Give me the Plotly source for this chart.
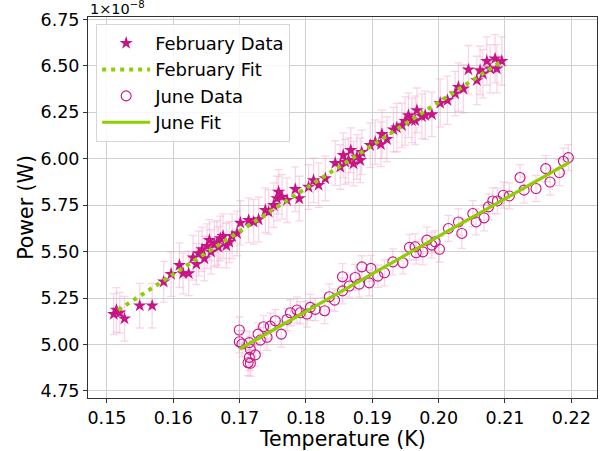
import plotly.graph_objects as go

# ---- February data (Power in units of 1e-8 W) ----
feb_T = [0.15102, 0.15143, 0.15193, 0.15264, 0.15494, 0.15681, 0.15855, 0.15967, 0.16092, 0.16148,
         0.16232, 0.16298, 0.16348, 0.16383, 0.16434, 0.16468, 0.16509, 0.16544, 0.16569, 0.16619,
         0.16660, 0.16679, 0.16709, 0.16750, 0.16800, 0.16845, 0.16886, 0.16961, 0.17011, 0.17136,
         0.17211, 0.17286, 0.17387, 0.17437, 0.17512, 0.17563, 0.17587, 0.17639, 0.17714, 0.17839,
         0.17899, 0.18039, 0.18114, 0.18190, 0.18291, 0.18441, 0.18517, 0.18562, 0.18592, 0.18642,
         0.18675, 0.18717, 0.18768, 0.18818, 0.18840, 0.18968, 0.19044, 0.19129, 0.19145, 0.19220,
         0.19319, 0.19370, 0.19446, 0.19495, 0.19545, 0.19596, 0.19646, 0.19672, 0.19747, 0.19797,
         0.19898, 0.20023, 0.20133, 0.20248, 0.20298, 0.20373, 0.20449, 0.20575, 0.20625, 0.20666,
         0.20726, 0.20776, 0.20851, 0.20877, 0.20952]
feb_P = [5.164, 5.186, 5.171, 5.139, 5.209, 5.209, 5.338, 5.379, 5.427, 5.383,
         5.383, 5.467, 5.433, 5.490, 5.512, 5.463, 5.530, 5.562, 5.499, 5.540,
         5.547, 5.524, 5.571, 5.583, 5.533, 5.551, 5.583, 5.598, 5.655, 5.669,
         5.660, 5.673, 5.723, 5.714, 5.750, 5.786, 5.822, 5.795, 5.777, 5.836,
         5.786, 5.848, 5.884, 5.858, 5.894, 5.977, 5.956, 6.019, 5.983, 5.992,
         6.046, 5.974, 6.010, 5.992, 6.035, 6.073, 6.090, 6.078, 6.132, 6.105,
         6.157, 6.168, 6.180, 6.203, 6.234, 6.207, 6.207, 6.261, 6.229, 6.234,
         6.239, 6.300, 6.315, 6.351, 6.386, 6.377, 6.480, 6.422, 6.476, 6.458,
         6.526, 6.485, 6.539, 6.485, 6.526]
feb_err = [0.11, 0.12, 0.11, 0.12, 0.12, 0.12, 0.11, 0.12, 0.12, 0.11,
           0.12, 0.12, 0.11, 0.12, 0.12, 0.12, 0.12, 0.11, 0.12, 0.12,
           0.12, 0.11, 0.12, 0.12, 0.12, 0.11, 0.12, 0.12, 0.12, 0.12,
           0.12, 0.12, 0.12, 0.12, 0.12, 0.12, 0.12, 0.12, 0.12, 0.12,
           0.12, 0.12, 0.12, 0.12, 0.12, 0.12, 0.12, 0.12, 0.12, 0.12,
           0.12, 0.12, 0.12, 0.12, 0.12, 0.12, 0.12, 0.12, 0.13, 0.12,
           0.12, 0.13, 0.12, 0.13, 0.12, 0.12, 0.13, 0.12, 0.12, 0.13,
           0.12, 0.13, 0.13, 0.12, 0.13, 0.13, 0.13, 0.13, 0.13, 0.13,
           0.13, 0.13, 0.13, 0.13, 0.13]

feb_fit_T = [0.1517, 0.2093]
feb_fit_P = [5.186, 6.520]

# ---- June data ----
jun_T = [0.16995, 0.16995, 0.17036, 0.17146, 0.17161, 0.17146, 0.17236, 0.17127, 0.17161, 0.17277,
         0.17312, 0.17361, 0.17413, 0.17462, 0.17538, 0.17628, 0.17714, 0.17764, 0.17864, 0.17914,
         0.18015, 0.18065, 0.18140, 0.18280, 0.18351, 0.18431, 0.18551, 0.18551, 0.18652, 0.18742,
         0.18803, 0.18843, 0.18953, 0.18979, 0.19084, 0.19184, 0.19310, 0.19461, 0.19560, 0.19646,
         0.19661, 0.19762, 0.19822, 0.19898, 0.19947, 0.20012, 0.20148, 0.20298, 0.20349, 0.20515,
         0.20565, 0.20685, 0.20750, 0.20816, 0.20886, 0.20976, 0.21066, 0.21227, 0.21288, 0.21468,
         0.21614, 0.21679, 0.21819, 0.21880, 0.21955]
jun_P = [5.078, 5.015, 5.003, 5.010, 4.974, 4.931, 4.944, 4.902, 4.899, 5.056,
         5.024, 5.096, 5.039, 5.099, 5.128, 5.056, 5.135, 5.171, 5.186, 5.171,
         5.164, 5.200, 5.189, 5.182, 5.257, 5.239, 5.289, 5.365, 5.315, 5.361,
         5.325, 5.418, 5.332, 5.410, 5.368, 5.386, 5.445, 5.440, 5.523, 5.526,
         5.494, 5.499, 5.562, 5.535, 5.553, 5.513, 5.625, 5.660, 5.598, 5.705,
         5.660, 5.682, 5.741, 5.773, 5.773, 5.804, 5.800, 5.899, 5.831, 5.840,
         5.947, 5.875, 5.926, 5.987, 6.006]
jun_err = [0.07, 0.06, 0.07, 0.06, 0.07, 0.07, 0.06, 0.07, 0.07, 0.06,
           0.07, 0.06, 0.07, 0.07, 0.06, 0.07, 0.06, 0.07, 0.07, 0.06,
           0.07, 0.07, 0.06, 0.07, 0.07, 0.06, 0.07, 0.07, 0.06, 0.07,
           0.07, 0.06, 0.07, 0.07, 0.06, 0.07, 0.07, 0.06, 0.07, 0.07,
           0.06, 0.07, 0.07, 0.07, 0.06, 0.07, 0.07, 0.07, 0.08, 0.07,
           0.07, 0.07, 0.07, 0.07, 0.07, 0.07, 0.07, 0.07, 0.07, 0.07,
           0.07, 0.07, 0.07, 0.07, 0.07]

jun_fit_T = [0.1700, 0.2197]
jun_fit_P = [4.976, 5.981]

x_ticks = [0.15, 0.16, 0.17, 0.18, 0.19, 0.20, 0.21, 0.22]
y_ticks = [4.75, 5.00, 5.25, 5.50, 5.75, 6.00, 6.25, 6.50, 6.75]

MAG = "#c71585"
GREEN = "#8dcf00"
ERR = "rgba(240,150,195,0.40)"
FONT = "DejaVu Sans"

fig = go.Figure()
fig.add_trace(go.Scatter(
    x=feb_T, y=feb_P, mode="markers", name="February Data",
    marker=dict(symbol="star", size=10, color=MAG, line=dict(width=0)),
    error_y=dict(type="data", array=feb_err, color=ERR, thickness=1.3, width=4),
))
fig.add_trace(go.Scatter(
    x=feb_fit_T, y=feb_fit_P, mode="lines", name="February Fit",
    line=dict(color=GREEN, width=4, dash="4px,5px"),
))
fig.add_trace(go.Scatter(
    x=jun_T, y=jun_P, mode="markers", name="June Data",
    marker=dict(symbol="circle-open", size=10, color=MAG, line=dict(width=1.1, color=MAG)),
    error_y=dict(type="data", array=jun_err, color=ERR, thickness=1.3, width=4),
))
fig.add_trace(go.Scatter(
    x=jun_fit_T, y=jun_fit_P, mode="lines", name="June Fit",
    line=dict(color=GREEN, width=3.2),
))

axis_common = dict(
    automargin=False,
    showgrid=True, gridcolor="#cfcfcf", gridwidth=1,
    showline=True, linecolor="#333333", linewidth=1, mirror=True,
    ticks="outside", ticklen=4, tickcolor="#333333",
    tickfont=dict(family=FONT, size=17.5, color="black"),
    zeroline=False,
)

fig.update_layout(
    width=611, height=451,
    margin=dict(l=88, r=14, t=17, b=53, autoexpand=False),
    paper_bgcolor="white", plot_bgcolor="white",
    font=dict(family=FONT, color="black"),
    showlegend=True,
    legend=dict(
        x=0.016, y=0.982, xanchor="left", yanchor="top",
        bgcolor="rgba(255,255,255,0.85)", bordercolor="#d6d6d6", borderwidth=1,
        font=dict(family=FONT, size=18, color="black"),
        itemwidth=48,
    ),
    xaxis=dict(
        range=[0.14714, 0.22387], tickvals=x_ticks, tickformat=".2f",
        **axis_common,
    ),
    yaxis=dict(
        range=[4.712, 6.7634], tickvals=y_ticks, tickformat=".2f",
        title=dict(text="Power (W)", font=dict(family=FONT, size=20.5), standoff=1),
        **axis_common,
    ),
    annotations=[
        dict(
            text="1×10<sup>−8</sup>", xref="paper", yref="paper", x=0, y=1,
            xanchor="left", yanchor="bottom", showarrow=False,
            font=dict(family=FONT, size=14.5, color="black"), yshift=-2,
        ),
        dict(
            text="Temperature (K)", xref="paper", yref="paper", x=0.5, y=0,
            xanchor="center", yanchor="middle", showarrow=False, yshift=-41,
            font=dict(family=FONT, size=20.5, color="black"),
        ),
    ],
)

fig.write_html("out.html", config={"displayModeBar": False},
               post_script="document.body.style.margin='0';document.body.style.padding='0';")
